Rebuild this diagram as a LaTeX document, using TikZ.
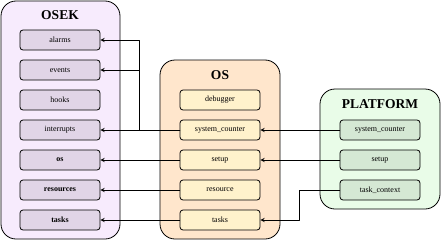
\documentclass[tikz,border=0pt]{standalone}
\usepackage{fontspec}
\setmainfont{Liberation Serif}
\usetikzlibrary{arrows}
\definecolor{osekback}{HTML}{F7EBFD}
\definecolor{osekitem}{HTML}{E1D5E7}
\definecolor{osback}{HTML}{FFE6CC}
\definecolor{ositem}{HTML}{FFF2CC}
\definecolor{platback}{HTML}{E9FCE8}
\definecolor{platitem}{HTML}{D5E8D4}
\tikzset{
  group/.style={draw, line width=0.8pt, rounded corners=15pt},
  grouptitle/.style={font=\fontsize{13.5}{15}\selectfont\bfseries},
  item/.style={draw, line width=0.8pt, rounded corners=3pt, minimum width=80pt,
    minimum height=20pt, inner sep=0pt, font=\fontsize{8}{9}\selectfont},
  link/.style={->, line width=0.9pt},
}

\begin{document}
\begin{tikzpicture}[line cap=round,line join=round,>=stealth,x=1pt,y=-1pt]
  \useasboundingbox (0,0) rectangle (441,241);
  % the three groups
  \draw [group, fill=osekback] (1,1) rectangle (120,239);
  \draw [group, fill=osback] (160,60) rectangle (280,239);
  \draw [group, fill=platback] (320,89) rectangle (440,209);
  \node [grouptitle] (osek) at (60,15) {OSEK};
  \node [grouptitle] (os) at (220,75) {OS};
  \node [grouptitle] (plat) at (380,104) {PLATFORM};
  % OSEK items
  \node [item, fill=osekitem] (osek_alarms) at (60,40) {alarms};
  \node [item, fill=osekitem] (osek_events) at (60,70) {events};
  \node [item, fill=osekitem] (osek_hooks) at (60,100) {hooks};
  \node [item, fill=osekitem] (osek_int) at (60,130) {interrupts};
  \node [item, fill=osekitem] (osek_os) at (60,160) {\textbf{os}};
  \node [item, fill=osekitem] (osek_res) at (60,190) {\textbf{resources}};
  \node [item, fill=osekitem] (osek_tasks) at (60,220) {\textbf{tasks}};
  % OS items
  \node [item, fill=ositem] (os_dbg) at (220,100) {debugger};
  \node [item, fill=ositem] (os_sc) at (220,130) {system\_counter};
  \node [item, fill=ositem] (os_setup) at (220,160) {setup};
  \node [item, fill=ositem] (os_res) at (220,190) {resource};
  \node [item, fill=ositem] (os_tasks) at (220,220) {tasks};
  % PLATFORM items
  \node [item, fill=platitem] (plat_sc) at (380,130) {system\_counter};
  \node [item, fill=platitem] (plat_setup) at (380,160) {setup};
  \node [item, fill=platitem] (plat_ctx) at (380,190) {task\_context};
  % OS -> OSEK
  \draw [link] (os_sc.west) -- (osek_int.east);
  \draw [link] (os_sc.west) -- ++(-40,0) |- (osek_alarms.east);
  \draw [link] (os_sc.west) -- ++(-40,0) |- (osek_events.east);
  \draw [link] (os_setup.west) -- (osek_os.east);
  \draw [link] (os_res.west) -- (osek_res.east);
  \draw [link] (os_tasks.west) -- (osek_tasks.east);
  % PLATFORM -> OS
  \draw [link] (plat_sc.west) -- (os_sc.east);
  \draw [link] (plat_setup.west) -- (os_setup.east);
  \draw [link] (plat_ctx.west) -- ++(-40,0) |- (os_tasks.east);
\end{tikzpicture}
\end{document}
